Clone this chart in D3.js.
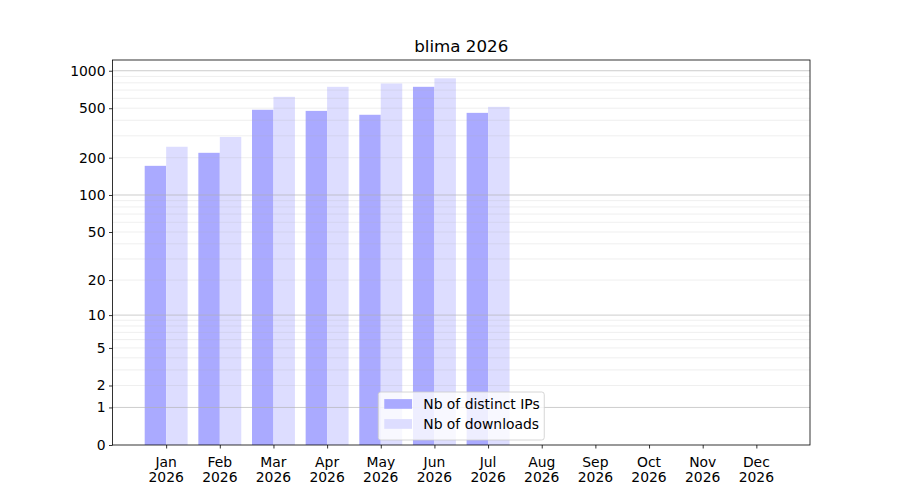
<!DOCTYPE html>
<html>
<head>
<meta charset="utf-8">
<script src="https://cdn.jsdelivr.net/npm/d3@7"></script>
<style>
  body { margin: 0; background: #fff; }
  svg { font-family: "DejaVu Sans", sans-serif; }
</style>
</head>
<body>
<div id="chart"></div>
<script>
// chart data
const months = ["Jan", "Feb", "Mar", "Apr", "May", "Jun", "Jul", "Aug", "Sep", "Oct", "Nov", "Dec"];
const year = "2026";
const distinctIPs = [172, 219, 486, 476, 443, 743, 459];
const downloads = [245, 294, 617, 743, 790, 869, 513];
const yTickValues = [0, 1, 2, 5, 10, 20, 50, 100, 200, 500, 1000];
const majorGrid = [1, 10, 100, 1000];
const minorMultipliers = [2, 3, 4, 5, 6, 7, 8, 9];

const W = 900, H = 500;
const margin = { left: 112.5, right: 90, top: 60, bottom: 55 };
const FS = 13.9;

const svg = d3.select("#chart").append("svg")
  .attr("width", W)
  .attr("height", H);

// y limit: 5% margin above the tallest bar in transformed space
const yMaxData = d3.max(downloads.concat(distinctIPs));
const yTop = Math.expm1(1.05 * Math.log1p(yMaxData));

const x = d3.scaleLinear()
  .domain([-1, 12])
  .range([margin.left, W - margin.right]);

const y = d3.scaleSymlog()
  .constant(1)
  .domain([0, yTop])
  .range([H - margin.bottom, margin.top]);

const barW = 0.4;

// bars
svg.append("g").selectAll("rect")
  .data(distinctIPs)
  .join("rect")
  .attr("x", (d, i) => x(i - barW))
  .attr("width", (d, i) => x(i) - x(i - barW))
  .attr("y", d => y(d))
  .attr("height", d => y(0) - y(d))
  .attr("fill", "#aaaaff");

svg.append("g").selectAll("rect")
  .data(downloads)
  .join("rect")
  .attr("x", (d, i) => x(i))
  .attr("width", (d, i) => x(i + barW) - x(i))
  .attr("y", d => y(d))
  .attr("height", d => y(0) - y(d))
  .attr("fill", "#ddddff");

// grid (drawn over the bars, like matplotlib)
const minorGrid = [];
majorGrid.forEach(d => minorMultipliers.forEach(k => {
  if (k * d < yTop) minorGrid.push(k * d);
}));

svg.append("g").selectAll("line")
  .data(minorGrid)
  .join("line")
  .attr("x1", margin.left).attr("x2", W - margin.right)
  .attr("y1", d => y(d)).attr("y2", d => y(d))
  .attr("stroke", "#b0b0b0")
  .attr("stroke-opacity", 0.25)
  .attr("stroke-width", 0.8);

svg.append("g").selectAll("line")
  .data(majorGrid)
  .join("line")
  .attr("x1", margin.left).attr("x2", W - margin.right)
  .attr("y1", d => y(d)).attr("y2", d => y(d))
  .attr("stroke", "#b0b0b0")
  .attr("stroke-opacity", 0.8)
  .attr("stroke-width", 0.8);

// axes
const yAxis = d3.axisLeft(y)
  .tickValues(yTickValues)
  .tickFormat(d3.format("d"))
  .tickSize(3.5)
  .tickPadding(3.5);

const gy = svg.append("g")
  .attr("transform", `translate(${margin.left},0)`)
  .call(yAxis);
gy.select(".domain").remove();
gy.selectAll("line").attr("stroke", "#000").attr("stroke-width", 0.8);
gy.selectAll("text")
  .attr("font-size", FS)
  .attr("fill", "#000")
  .attr("font-family", "DejaVu Sans");

const xAxis = d3.axisBottom(x)
  .tickValues(d3.range(months.length))
  .tickFormat("")
  .tickSize(3.5);

const gx = svg.append("g")
  .attr("transform", `translate(0,${H - margin.bottom})`)
  .call(xAxis);
gx.select(".domain").remove();
gx.selectAll("line").attr("stroke", "#000").attr("stroke-width", 0.8);

svg.append("g").selectAll("text")
  .data(months)
  .join("text")
  .attr("x", (d, i) => x(i))
  .attr("y", H - margin.bottom + 21.5)
  .attr("text-anchor", "middle")
  .attr("font-size", FS)
  .each(function (d) {
    const t = d3.select(this);
    t.append("tspan").attr("x", t.attr("x")).text(d);
    t.append("tspan").attr("x", t.attr("x")).attr("dy", 15.5).text(year);
  });

// spines
svg.append("rect")
  .attr("x", margin.left)
  .attr("y", margin.top)
  .attr("width", W - margin.right - margin.left)
  .attr("height", H - margin.bottom - margin.top)
  .attr("fill", "none")
  .attr("stroke", "#000")
  .attr("stroke-width", 0.8);

// title
svg.append("text")
  .attr("x", (margin.left + W - margin.right) / 2)
  .attr("y", 52)
  .attr("text-anchor", "middle")
  .attr("font-size", 16.7)
  .text("blima " + year);

// legend, lower center
const legendItems = [
  { label: "Nb of distinct IPs", color: "#aaaaff" },
  { label: "Nb of downloads", color: "#ddddff" }
];
const legW = 166, legH = 48;
const legX = (margin.left + W - margin.right) / 2 - legW / 2;
const legY = H - margin.bottom - 5 - legH;

const legend = svg.append("g").attr("transform", `translate(${legX},${legY})`);
legend.append("rect")
  .attr("width", legW).attr("height", legH)
  .attr("rx", 2.5)
  .attr("fill", "#fff").attr("fill-opacity", 0.8)
  .attr("stroke", "#cccccc").attr("stroke-width", 0.8);

legendItems.forEach((item, i) => {
  const cy = 12 + i * 20;
  legend.append("rect")
    .attr("x", 6).attr("y", cy - 4.9)
    .attr("width", 27.8).attr("height", 9.7)
    .attr("fill", item.color);
  legend.append("text")
    .attr("x", 45).attr("y", cy)
    .attr("dy", "0.36em")
    .attr("font-size", FS)
    .text(item.label);
});
</script>
</body>
</html>
